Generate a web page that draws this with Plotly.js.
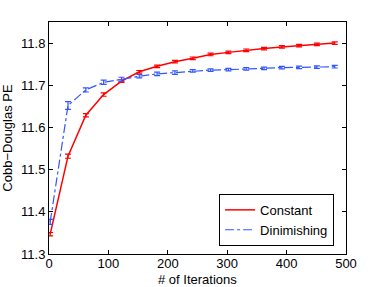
<!DOCTYPE html>
<html>
<head>
<meta charset="utf-8">
<script src="https://cdn.plot.ly/plotly-3.0.1.min.js"></script>
<style>html,body{margin:0;padding:0;background:#fff;}#chart{width:382px;height:287px;}</style>
</head>
<body>
<div id="chart"></div>
<script>
var iterations = [2, 32, 62, 92, 122, 152, 182, 212, 242, 272, 302, 332, 362, 392, 421, 451, 481];
var constantPE = [11.347, 11.532, 11.629, 11.678, 11.710, 11.732, 11.745, 11.756, 11.764, 11.773, 11.778, 11.783, 11.787, 11.791, 11.794, 11.797, 11.800];
var constantErr = [0.004, 0.005, 0.004, 0.004, 0.003, 0.003, 0.003, 0.003, 0.003, 0.003, 0.003, 0.003, 0.003, 0.003, 0.003, 0.003, 0.003];
var dimPE = [11.376, 11.652, 11.689, 11.707, 11.714, 11.7215, 11.727, 11.730, 11.734, 11.736, 11.737, 11.739, 11.740, 11.742, 11.7425, 11.743, 11.744];
var dimErr = [0.006, 0.009, 0.005, 0.005, 0.005, 0.004, 0.004, 0.004, 0.003, 0.003, 0.003, 0.003, 0.003, 0.003, 0.003, 0.003, 0.003];
var xTicks = [0, 100, 200, 300, 400, 500];
var yTicks = [11.3, 11.4, 11.5, 11.6, 11.7, 11.8];
var xTitle = '# of Iterations';
var yTitle = 'Cobb\u2212Douglas PE';

var font = {family: 'Liberation Sans, Arial, sans-serif', size: 13, color: '#000'};

var traces = [
  {x: iterations, y: constantPE, name: 'Constant', mode: 'lines',
   line: {color: '#ff0000', width: 1.5},
   error_y: {type: 'data', array: constantErr, visible: true, color: '#ff0000', thickness: 1.2, width: 3}},
  {x: iterations, y: dimPE, name: 'Dinimishing', mode: 'lines',
   line: {color: '#3355ff', width: 1.2, dash: 'dashdot'},
   error_y: {type: 'data', array: dimErr, visible: true, color: '#3355ff', thickness: 1.2, width: 3}}
];

var layout = {
  width: 382, height: 287,
  margin: {l: 49, r: 36, t: 22, b: 33, pad: 0},
  paper_bgcolor: '#fff', plot_bgcolor: '#fff',
  font: font,
  showlegend: true,
  legend: {x: 0.96, y: 0.147, xanchor: 'right', yanchor: 'middle',
           bordercolor: '#000', borderwidth: 1, bgcolor: '#fff',
           font: font,
           tracegroupgap: 0, itemwidth: 30},
  xaxis: {range: [0, 500], tickvals: xTicks, ticktext: xTicks.map(String),
          ticks: 'inside', ticklen: 4, tickcolor: '#000', showgrid: false, zeroline: false,
          showline: true, linecolor: '#000', linewidth: 1, mirror: 'ticks',
          ticklabelstandoff: -3,
          tickfont: font},
  yaxis: {range: [11.3, 11.85], tickvals: yTicks, ticktext: yTicks.map(function(v){return v.toFixed(1);}),
          ticks: 'inside', ticklen: 4, tickcolor: '#000', showgrid: false, zeroline: false,
          showline: true, linecolor: '#000', linewidth: 1, mirror: 'ticks',
          tickfont: font,
          title: {text: yTitle, font: font, standoff: 5}},
  annotations: [
    {text: xTitle, xref: 'paper', yref: 'paper', x: 0.5, y: -0.108,
     xanchor: 'center', yanchor: 'middle', showarrow: false, font: font, borderpad: 0}
  ]
};

Plotly.newPlot('chart', traces, layout, {displayModeBar: false, staticPlot: true});
</script>
</body>
</html>
